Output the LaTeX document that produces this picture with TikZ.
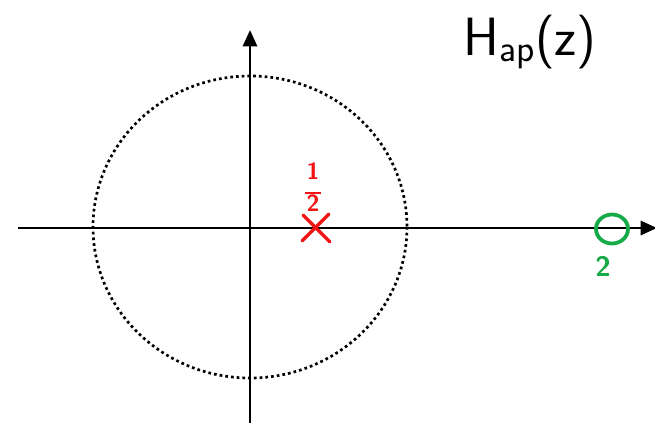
\documentclass[tikz,border=0pt]{standalone}
\usepackage{amsmath}
\usepackage[dvipsnames]{xcolor}
\usetikzlibrary{arrows.meta}
\definecolor{polered}{RGB}{240,20,20}
\definecolor{zerogreen}{RGB}{20,170,70}
\begin{document}
\begin{tikzpicture}[x=0.03cm, y=-0.03cm, font=\sffamily\bfseries,
    axis/.style={line width=2.4pt, -{Triangle[length=14pt,width=12pt]}},
    unit/.style={line width=2.3pt, dash pattern=on 2.3pt off 2.6pt}]
  \useasboundingbox (0,0) rectangle (655,423);
  % axes
  \coordinate (o) at (250,227);
  \coordinate (xl) at (18,228);
  \coordinate (xr) at (657,228);
  \coordinate (yb) at (250,423);
  \coordinate (yt) at (250,30);
  \draw[axis] (xl) -- (xr);
  \draw[axis] (yb) -- (yt);
  % unit circle
  \draw[unit] (o) ellipse (157 and 151);
  % pole at 1/2
  \draw[polered, line width=3pt, line cap=round]
    (303,215) -- (330,242) (329,214) -- (302,241);
  \node[text=polered, align=center, inner sep=0pt, font=\sffamily\bfseries\fontsize{20}{18}\selectfont] (pole) at (313,187) {1\\[-6pt]\rule{13pt}{1.6pt}\\[-3pt]2};
  % zero at 2
  \draw[zerogreen, line width=3.2pt] (612,229) ellipse (16 and 14.5);
  \node[text=zerogreen, font=\sffamily\bfseries\fontsize{24}{26}\selectfont] (zero) at (603,266) {2};
  % title
  \node[font=\sffamily\fontsize{46}{50}\selectfont] (title) at (530,42) {H\textsubscript{ap}(z)};
\end{tikzpicture}
\end{document}
